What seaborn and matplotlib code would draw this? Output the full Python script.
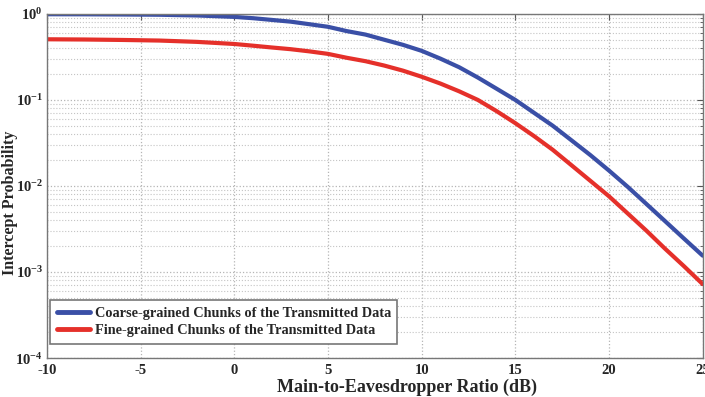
import matplotlib
matplotlib.use('Agg')
import matplotlib.pyplot as plt
import numpy as np
import pandas as pd
import seaborn as sns
from matplotlib.ticker import LogLocator, NullFormatter

# main-to-eavesdropper ratio (dB)
mer_db = [-10, -8, -6, -4, -2, 0, 1, 2, 3, 4, 5, 6, 7, 8, 9, 10, 11, 12,
          13, 14, 15, 16, 17, 18, 19, 20, 21, 22, 23, 24, 25]

# intercept probability
coarse = [0.991, 0.989, 0.984, 0.977, 0.959, 0.923, 0.891, 0.851, 0.813,
          0.759, 0.708, 0.631, 0.575, 0.501, 0.437, 0.372, 0.302, 0.240,
          0.182, 0.135, 0.100, 0.0708, 0.0501, 0.0339, 0.0229, 0.0151,
          0.00977, 0.00617, 0.00389, 0.00245, 0.00155]
fine = [0.507, 0.504, 0.498, 0.490, 0.473, 0.447, 0.427, 0.407, 0.389,
        0.367, 0.343, 0.309, 0.282, 0.251, 0.219, 0.186, 0.155, 0.126,
        0.100, 0.0741, 0.0537, 0.0380, 0.0263, 0.0174, 0.0115, 0.00759,
        0.00479, 0.00302, 0.00186, 0.00117, 0.000724]

names = ["Coarse-grained Chunks of the Transmitted Data",
         "Fine-grained Chunks of the Transmitted Data"]
colors = ["#3a4fa6", "#e5302a"]

x_ticks = [-10, -5, 0, 5, 10, 15, 20, 25]
y_ticks = [1e-4, 1e-3, 1e-2, 1e-1, 1e0]
y_tick_labels = ["$10^{-4}$", "$10^{-3}$", "$10^{-2}$", "$10^{-1}$", "$10^{0}$"]

df = pd.DataFrame({
    "x": mer_db * 2,
    "p": coarse + fine,
    "series": [names[0]] * len(mer_db) + [names[1]] * len(mer_db),
})

sns.set_style("white")
plt.rcParams['font.family'] = ['Liberation Serif', 'DejaVu Serif']
plt.rcParams['font.weight'] = 'bold'
plt.rcParams['mathtext.fontset'] = 'custom'
plt.rcParams['mathtext.rm'] = 'Liberation Serif:bold'
plt.rcParams['mathtext.it'] = 'Liberation Serif:bold'
plt.rcParams['mathtext.bf'] = 'Liberation Serif:bold'

fig = plt.figure(figsize=(7.05, 3.97), dpi=100)
ax = fig.add_axes([0.0667, 0.098, 0.930, 0.867])

sns.lineplot(data=df, x="x", y="p", hue="series", palette=dict(zip(names, colors)),
             linewidth=3.0, ax=ax, legend=False)

ax.set_yscale('log')
ax.set_xlim(-10, 25)
ax.set_ylim(1e-4, 1)
ax.set_xticks(x_ticks)
ax.set_xticklabels([str(t) for t in x_ticks], fontsize=10.5, fontweight='bold')
ax.set_yticks(y_ticks)
ax.set_yticklabels(y_tick_labels, fontsize=10.5)
ax.yaxis.set_minor_locator(LogLocator(base=10, subs=np.arange(2, 10), numticks=20))
ax.yaxis.set_minor_formatter(NullFormatter())

ax.grid(True, which='major', axis='both', color='#b5b5b5', linestyle=':', linewidth=0.9)
ax.grid(True, which='minor', axis='y', color='#c4c4c4', linestyle=':', linewidth=0.8)
ax.tick_params(which='both', direction='in', top=True, right=True, color='#555555')
ax.tick_params(which='major', length=4)
ax.tick_params(axis='x', which='major', pad=4)
ax.tick_params(axis='y', which='major', pad=3)
ax.tick_params(which='minor', length=2)
for s in ax.spines.values():
    s.set_color('#777777')
    s.set_linewidth(1.0)

ax.set_xlabel("Main-to-Eavesdropper Ratio (dB)", fontsize=13, fontweight='bold')
ax.xaxis.set_label_coords(0.549, -0.061)
ax.set_ylabel("Intercept Probability", fontsize=11.5, fontweight='bold')
ax.yaxis.set_label_coords(-0.045, 0.45)

handles = [plt.Line2D([], [], color=c, linewidth=3.5) for c in colors]
leg = ax.legend(handles, names, loc='lower left', bbox_to_anchor=(0.005, 0.042),
                fancybox=False, framealpha=1, edgecolor='#777777', handlelength=2.3,
                handletextpad=0.35, prop={'weight': 'bold', 'size': 10.3},
                borderpad=0.45, borderaxespad=0.0, labelspacing=0.3)
leg.get_frame().set_linewidth(1.2)

fig.savefig("out.png", dpi=100)
